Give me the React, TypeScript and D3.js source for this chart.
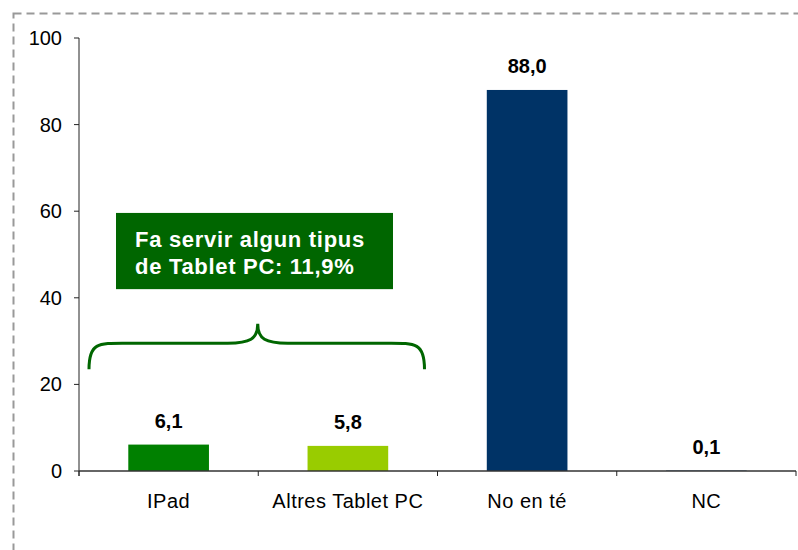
import React from 'react';
import * as d3 from 'd3';

const categories = ['IPad', 'Altres Tablet PC', 'No en té', 'NC'];
const values = [6.1, 5.8, 88.0, 0.1];
const barColors = ['#008000', '#99cc00', '#003366', '#003366'];
const yTicks = [0, 20, 40, 60, 80, 100];
const noteLines = ['Fa servir algun tipus', 'de Tablet PC: 11,9%'];

const W = 798, H = 550;
const margin = { left: 79, right: 2, top: 38, bottom: 79 };
const FONT = 'Liberation Sans, Arial, sans-serif';

const fmt = (v: number) => v.toFixed(1).replace('.', ',');

export default function App() {
  const x = d3.scaleBand<string>()
    .domain(categories)
    .range([margin.left, W - margin.right])
    .paddingInner(0.55)
    .paddingOuter(0.275);
  const y = d3.scaleLinear().domain([0, 100]).range([H - margin.bottom, margin.top]);

  const step = x.step();
  const bandStart = (c: string) => x(c)! - (step - x.bandwidth()) / 2;
  const boundaries = categories.map(bandStart).concat([W - margin.right]);

  // brace spanning the two tablet categories
  const bx0 = bandStart('IPad') + 10;
  const bx1 = bandStart('Altres Tablet PC') + step - 13;
  const bmid = (bx0 + bx1) / 2 + 1;
  const yEnd = y(23.5), yFlat = y(29.5), yPeak = y(34);
  const r = 22;
  const brace = `M${bx0},${yEnd} C${bx0},${yFlat - 2} ${bx0 + 10},${yFlat} ${bx0 + r + 20},${yFlat}
    L${bmid - r - 8},${yFlat} C${bmid - 8},${yFlat} ${bmid},${yFlat - 4} ${bmid},${yPeak}
    C${bmid},${yFlat - 4} ${bmid + 8},${yFlat} ${bmid + r + 8},${yFlat}
    L${bx1 - r - 20},${yFlat} C${bx1 - 10},${yFlat} ${bx1},${yFlat - 2} ${bx1},${yEnd}`;

  const boxX0 = 116, boxX1 = 393;
  const boxTop = y(59.6), boxBottom = y(42);

  return (
    <svg width={W} height={H} style={{ position: 'absolute', left: 0, top: 0, fontFamily: FONT }}>
      <rect x={13.5} y={13.5} width={W} height={H} fill="none" stroke="#999" strokeWidth={2} strokeDasharray="8,5" />

      {/* y axis */}
      <line x1={margin.left} x2={margin.left} y1={y(100)} y2={y(0) + 5} stroke="#222" />
      {yTicks.map(t => (
        <g key={t}>
          <line x1={margin.left - 5} x2={margin.left} y1={y(t)} y2={y(t)} stroke="#222" />
          <text x={margin.left - 17} y={y(t)} dy="0.35em" textAnchor="end" fontSize={20} fill="#000">{t}</text>
        </g>
      ))}

      {/* bars */}
      {categories.map((c, i) => (
        <g key={c}>
          <rect x={x(c)} y={y(values[i])} width={x.bandwidth()} height={y(0) - y(values[i])} fill={barColors[i]} />
          <text x={x(c)! + x.bandwidth() / 2} y={y(values[i]) - 17} textAnchor="middle" fontSize={20} fontWeight="bold" fill="#000">{fmt(values[i])}</text>
          <text x={x(c)! + x.bandwidth() / 2} y={y(0) + 37} textAnchor="middle" fontSize={20} fill="#000" letterSpacing={0.5}>{c}</text>
        </g>
      ))}

      {/* x axis */}
      <line x1={margin.left} x2={W - margin.right} y1={y(0)} y2={y(0)} stroke="#333" strokeWidth={1.5} />
      {boundaries.map((b, i) => (
        <line key={i} x1={b} x2={b} y1={y(0)} y2={y(0) + 5} stroke="#222" />
      ))}

      {/* annotation */}
      <rect x={boxX0} y={boxTop} width={boxX1 - boxX0} height={boxBottom - boxTop} fill="#006600" />
      {noteLines.map((l, i) => (
        <text key={i} x={boxX0 + 19} y={boxTop + 34 + i * 27} fontSize={22} fontWeight="bold" fill="#fff" letterSpacing={0.7}>{l}</text>
      ))}
      <path d={brace} fill="none" stroke="#006600" strokeWidth={3} />
    </svg>
  );
}
